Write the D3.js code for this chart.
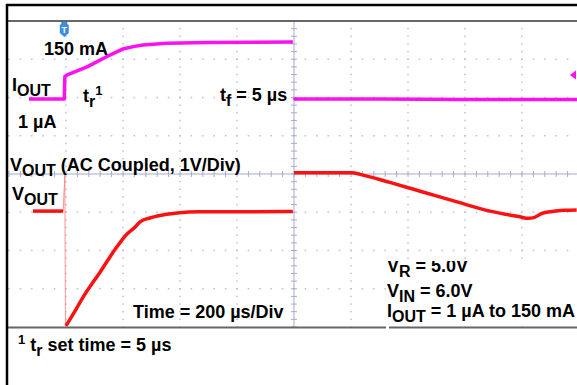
<!DOCTYPE html>
<html><head><meta charset="utf-8">
<script src="https://cdn.jsdelivr.net/npm/d3@7/dist/d3.min.js"></script>
<style>html,body{margin:0;padding:0;background:#fff;}svg{display:block;}</style>
</head><body><svg id="c" width="577" height="385"></svg>
<script>
// ---- data (screen divisions: x -5..5, y -4..4) ----
const ioutLeft = [[-4.65,1.96],[-4.03,1.96],[-4.02,2.55],[-3.98,2.59],[-3.63,2.80],[-3.23,3.11],[-3.0,3.27],[-2.82,3.33],[-2.65,3.37],[-2.23,3.42],[-1.5,3.44],[-0.02,3.45]];
const ioutRight = [[0.01,2.0],[0.02,1.96],[1.5,1.96],[3.0,1.95],[4.98,1.95]];
const voutLeft = [[-4.58,-0.97],[-4.05,-0.97]];
const voutStep = [[-4.05,-0.97],[-4.02,-0.03],[-4.01,-4.0]];
const voutRise = [[-4.0,-3.97],[-3.84,-3.58],[-3.70,-3.22],[-3.40,-2.56],[-3.11,-1.91],[-2.93,-1.57],[-2.79,-1.39],[-2.70,-1.25],[-2.53,-1.15],[-2.40,-1.10],[-2.05,-1.02],[-1.65,-0.99],[-0.77,-0.99],[-0.02,-0.98]];
const voutRight = [[0.0,0.03],[1.02,0.03],[1.16,-0.01],[1.68,-0.22],[2.26,-0.47],[2.86,-0.73],[3.44,-0.97],[3.96,-1.12],[4.11,-1.16],[4.21,-1.14],[4.35,-1.03],[4.53,-0.98],[4.75,-0.95],[4.96,-0.94]];
const xDivs = [-5,-4,-3,-2,-1,0,1,2,3,4,5];
const yDivs = [-4,-3,-2,-1,0,1,2,3,4];
const labelIout = [["I",""],["OUT","sub"]];
const label150 = [["150 mA",""]];
const label1uA = [["1 µA",""]];
const labelTr = [["t",""],["r","sub"],["1","sup"]];
const labelTf = [["t",""],["f","sub"],[" = 5 µs",""]];
const labelVoutAC = [["V",""],["OUT","sub"],[" (AC Coupled, 1V/Div)",""]];
const labelVout = [["V",""],["OUT","sub"]];
const labelTime = [["Time = 200 µs/Div",""]];
const labelVr = [["V",""],["R","sub"],[" = 5.0V",""]];
const labelVin = [["V",""],["IN","sub"],[" = 6.0V",""]];
const labelIrange = [["I",""],["OUT","sub"],[" = 1 µA to 150 mA",""]];
const labelFoot = [["1","sup"],[" t",""],["r","sub"],[" set time = 5 µs",""]];

const svg = d3.select("#c");
const x = d3.scaleLinear().domain([-5,5]).range([9,579]);
const y = d3.scaleLinear().domain([-4,4]).range([327,21]);
const gridCol = "#bcc0da", axisCol = "#a4abd0";

// grid dots
const g = svg.append("g");
const xMinor = d3.range(-25,26).map(i=>i/5);
const yMinor = d3.range(-20,21).map(i=>i/5);
yDivs.filter(d=>d!==0 && Math.abs(d)<4).forEach(yv=>{
  g.selectAll(null).data(xMinor).enter().append("rect")
   .attr("x",d=>x(d)-0.75).attr("y",y(yv)-0.75).attr("width",1.5).attr("height",1.5).attr("fill",gridCol);
});
xDivs.filter(d=>d!==0 && Math.abs(d)<5).forEach(xv=>{
  g.selectAll(null).data(yMinor).enter().append("rect")
   .attr("x",x(xv)-0.75).attr("y",d=>y(d)-0.75).attr("width",1.5).attr("height",1.5).attr("fill",gridCol);
});
// center axes with ticks
g.append("line").attr("x1",x(-5)).attr("x2",x(5)).attr("y1",y(0)).attr("y2",y(0)).attr("stroke",axisCol).attr("stroke-width",1);
g.append("line").attr("x1",x(0)).attr("x2",x(0)).attr("y1",y(4)).attr("y2",y(-4)).attr("stroke",axisCol).attr("stroke-width",1);
g.selectAll(null).data(xMinor).enter().append("line")
 .attr("x1",d=>x(d)).attr("x2",d=>x(d)).attr("y1",y(0)-3).attr("y2",y(0)+3).attr("stroke",axisCol);
g.selectAll(null).data(yMinor).enter().append("line")
 .attr("y1",d=>y(d)).attr("y2",d=>y(d)).attr("x1",x(0)-3).attr("x2",x(0)+3).attr("stroke",axisCol);

// white annotation box (right bottom)
svg.append("rect").attr("x",386).attr("y",260).attr("width",191).attr("height",66).attr("fill","#fff");

// frame
svg.append("line").attr("x1",7).attr("x2",577).attr("y1",21).attr("y2",21).attr("stroke","#666").attr("stroke-width",2);
svg.append("line").attr("x1",7).attr("x2",386).attr("y1",327.5).attr("y2",327.5).attr("stroke","#666").attr("stroke-width",2);
svg.append("line").attr("x1",389).attr("x2",577).attr("y1",327.5).attr("y2",327.5).attr("stroke","#666").attr("stroke-width",2);
svg.append("line").attr("x1",6).attr("x2",577).attr("y1",5).attr("y2",5).attr("stroke","#000").attr("stroke-width",2.5);
svg.append("line").attr("x1",7).attr("x2",7).attr("y1",4).attr("y2",385).attr("stroke","#000").attr("stroke-width",2.5);

// traces
const line = d3.line().x(d=>x(d[0])).y(d=>y(d[1]));
const smooth = d3.line().x(d=>x(d[0])).y(d=>y(d[1])).curve(d3.curveMonotoneX);
const mag = "#fb10f0", red = "#fa1212";
svg.append("path").attr("d",line(voutStep)).attr("fill","none").attr("stroke","#f77").attr("stroke-width",1).attr("opacity",0.8);
svg.append("path").attr("d",line(voutLeft)).attr("fill","none").attr("stroke",red).attr("stroke-width",3.5);
svg.append("path").attr("d",smooth(voutRise)).attr("fill","none").attr("stroke",red).attr("stroke-width",3.5).attr("stroke-linejoin","round");
svg.append("path").attr("d",smooth(voutRight)).attr("fill","none").attr("stroke",red).attr("stroke-width",3.5).attr("stroke-linejoin","round");
svg.append("path").attr("d",line(ioutLeft)).attr("fill","none").attr("stroke",mag).attr("stroke-width",3.5).attr("stroke-linejoin","round");
svg.append("path").attr("d",line(ioutRight)).attr("fill","none").attr("stroke",mag).attr("stroke-width",3.5);

// markers
svg.append("path").attr("d","M570,75 L576,70.5 L576,79.5 Z").attr("fill",mag);
const tx = x(ioutLeft[1][0]);
svg.append("path").attr("d",`M${tx-3},22 L${tx+3},22 L${tx+3},24 L${tx+4.5},25 L${tx+4.5},33 L${tx},37 L${tx-4.5},33 L${tx-4.5},25 L${tx-3},24 Z`).attr("fill","#3b8de0");
svg.append("text").attr("x",tx).attr("y",33).attr("text-anchor","middle").attr("font-family","Liberation Sans, Arial, sans-serif").attr("font-weight","bold").attr("font-size",9).attr("fill","#fff").text("T");

// labels
function rich(px, py, parts, clip){
  const t = svg.append("text").attr("x",px).attr("y",py)
    .attr("font-family","Liberation Sans, Arial, sans-serif").attr("font-weight","bold").attr("font-size",18).attr("fill","#000");
  if(clip) t.attr("clip-path",clip);
  let shift = 0;
  parts.forEach(([s,k])=>{
    const target = k==="sub"?5:(k==="sup"?-7:0);
    t.append("tspan").attr("dy",target-shift).attr("font-size",k==="sub"?16:(k==="sup"?13:18)).text(s);
    shift = target;
  });
}
svg.append("clipPath").attr("id","boxclip").append("rect").attr("x",380).attr("y",261).attr("width",200).attr("height",80);
rich(44,55,label150);
rich(12,91,labelIout);
rich(18,128,label1uA);
rich(83,102,labelTr);
rich(220,101,labelTf);
rich(10,171,labelVoutAC);
rich(12,200,labelVout);
rich(133,318,labelTime);
rich(387,272,labelVr,"url(#boxclip)");
rich(387,297,labelVin);
rich(387,317,labelIrange);
rich(18,351,labelFoot);
</script></body></html>
